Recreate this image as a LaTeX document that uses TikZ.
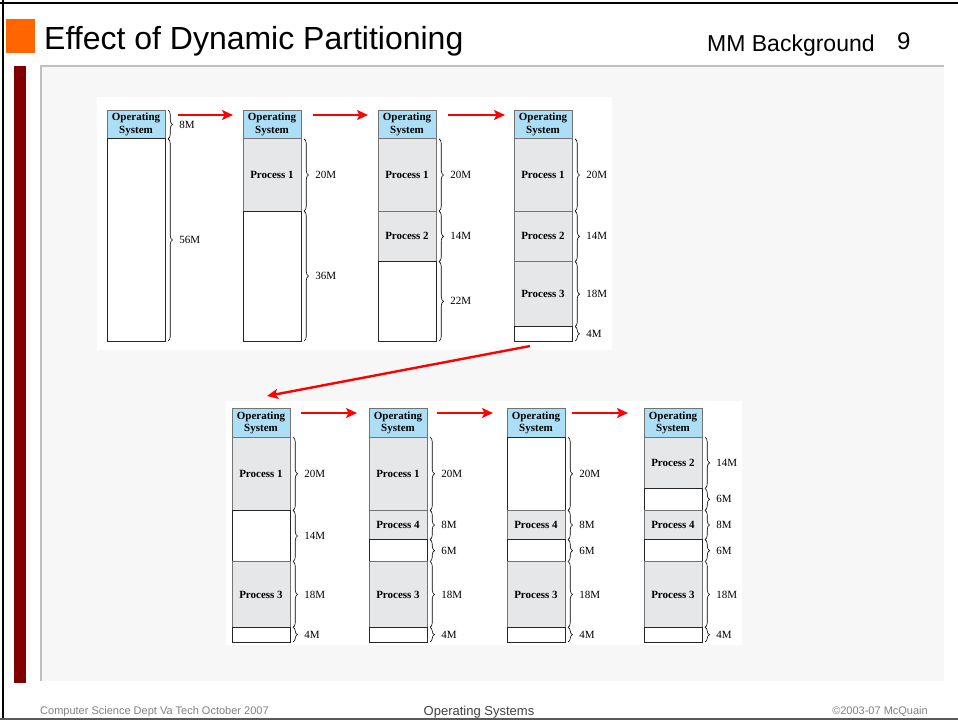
\documentclass[tikz,border=0pt]{standalone}
\usepackage{fontspec}
\setmainfont{Liberation Sans}
\newfontfamily\figfont{Liberation Serif}
\usetikzlibrary{arrows.meta,calc,decorations.pathreplacing}
\definecolor{osblue}{RGB}{172,222,246}
\definecolor{procgray}{RGB}{230,231,232}
\definecolor{slideorange}{RGB}{255,102,0}
\definecolor{slidemaroon}{RGB}{128,0,0}
\definecolor{panelgray}{RGB}{247,247,247}

\tikzset{
  ossys/.style={draw=gray!90!black, fill=osblue, minimum width=58pt, inner sep=0pt, outer sep=0pt, line width=0.9pt, align=center, font=\figfont\bfseries\fontsize{11}{12.5}\selectfont},
  procseg/.style={draw=gray!90!black, fill=procgray, minimum width=58pt, inner sep=0pt, outer sep=0pt, line width=0.9pt, font=\figfont\bfseries\fontsize{11}{12.5}\selectfont},
  freeseg/.style={draw=black!85, fill=white, minimum width=58pt, inner sep=0pt, outer sep=0pt, line width=0.9pt},
  sizebrace/.style={decorate, decoration={brace, amplitude=4.5pt}, line width=0.6pt},
  sizelabel/.style={midway, right=11pt, inner sep=0pt, font=\figfont\fontsize{11}{12.5}\selectfont},
  movearrow/.style={draw=red, line width=2.4pt, -{Stealth[length=11pt,width=10pt,inset=2.5pt]}},
}

% one memory column: #1 name, #2 left edge, #3 segments under the OS (size/style/text)
\newcommand{\memcol}[3]{%
  \node[ossys, minimum height=8*\mpx] (#1-os) at (#2+29,\rowtop+4*\mpx) {Operating\\System};
  \pgfmathsetmacro\ycur{\rowtop+8*\mpx}
  \foreach \sz/\kind/\txt [count=\i] in {#3} {
    \pgfmathsetmacro\ybot{\ycur+\sz*\mpx}
    \node[\kind, minimum height=\sz*\mpx] (#1-\i) at (#2+29,{(\ycur+\ybot)/2}) {\txt};
    \draw[sizebrace] (#2+61,\ycur) -- (#2+61,\ybot) node[sizelabel] {\sz M};
    \global\let\ycur\ybot
  }
}

\begin{document}
\begin{tikzpicture}[x=1pt, y=-1pt]
  \useasboundingbox (0,0) rectangle (958,720);

  % slide frame and header
  \draw[line width=2.5pt] (0,3) -- (958,3);
  \draw[line width=2.5pt] (3,0) -- (3,720);
  \draw[line width=2pt, black!65] (0,719) -- (958,719);
  \fill[slideorange] (6,19) rectangle (35,53);
  \node[anchor=base west, inner sep=0pt, font=\fontsize{32}{36}\selectfont] (title) at (44,49) {Effect of Dynamic Partitioning};
  \node[anchor=base west, inner sep=0pt, font=\fontsize{23}{26}\selectfont] (topic) at (707,51) {MM Background};
  \node[anchor=base west, inner sep=0pt, font=\fontsize{24}{28}\selectfont] (pageno) at (897,49) {9};

  % content panel
  \fill[panelgray] (41,66) rectangle (944,681);
  \draw[line width=1.5pt, black!25] (41,681) -- (41,66) -- (944,66);
  \fill[slidemaroon] (14,66) rectangle (26,683);
  \fill[white] (97,97) rectangle (612,350);
  \fill[white] (226,401) rectangle (742,645);

  % first row
  \def\rowtop{110}\def\mpx{3.61}
  \memcol{c1}{107}{56/freeseg/{}}
  \memcol{c2}{243}{20/procseg/Process 1, 36/freeseg/{}}
  \memcol{c3}{378}{20/procseg/Process 1, 14/procseg/Process 2, 22/freeseg/{}}
  \memcol{c4}{514}{20/procseg/Process 1, 14/procseg/Process 2, 18/procseg/Process 3, 4/freeseg/{}}
  \draw[sizebrace] ($(c1-os.north east)+(3,0)$) -- ($(c1-os.south east)+(3,0)$) node[sizelabel] {8M};

  % second row
  \def\rowtop{408}\def\mpx{3.656}
  \memcol{c5}{232}{20/procseg/Process 1, 14/freeseg/{}, 18/procseg/Process 3, 4/freeseg/{}}
  \memcol{c6}{369}{20/procseg/Process 1, 8/procseg/Process 4, 6/freeseg/{}, 18/procseg/Process 3, 4/freeseg/{}}
  \memcol{c7}{507}{20/freeseg/{}, 8/procseg/Process 4, 6/freeseg/{}, 18/procseg/Process 3, 4/freeseg/{}}
  \memcol{c8}{644}{14/procseg/Process 2, 6/freeseg/{}, 8/procseg/Process 4, 6/freeseg/{}, 18/procseg/Process 3, 4/freeseg/{}}

  % arrows between states
  \draw[movearrow] ($(c1-os.north east)+(13,5)$) -- ($(c2-os.north west)+(-10,5)$);
  \draw[movearrow] ($(c2-os.north east)+(12,5)$) -- ($(c3-os.north west)+(-10,5)$);
  \draw[movearrow] ($(c3-os.north east)+(12,5)$) -- ($(c4-os.north west)+(-9,5)$);
  \draw[movearrow] ($(c4-4.south)+(-13,5)$) -- ($(c5-os.north)+(6,-12)$);
  \draw[movearrow] ($(c5-os.north east)+(11,5)$) -- ($(c6-os.north west)+(-12,5)$);
  \draw[movearrow] ($(c6-os.north east)+(10,5)$) -- ($(c7-os.north west)+(-14,5)$);
  \draw[movearrow] ($(c7-os.north east)+(7,5)$) -- ($(c8-os.north west)+(-16,5)$);

  % footer
  \node[anchor=base west, inner sep=0pt, text=black!50, font=\fontsize{11}{13}\selectfont] (dept) at (40,714) {Computer Science Dept Va Tech October 2007};
  \node[anchor=base, inner sep=0pt, text=black!75, font=\fontsize{13}{15}\selectfont] (course) at (479,715) {Operating Systems};
  \node[anchor=base east, inner sep=0pt, text=black!50, font=\fontsize{11}{13}\selectfont] (copy) at (928,714) {\textcopyright2003-07 McQuain};
\end{tikzpicture}
\end{document}
